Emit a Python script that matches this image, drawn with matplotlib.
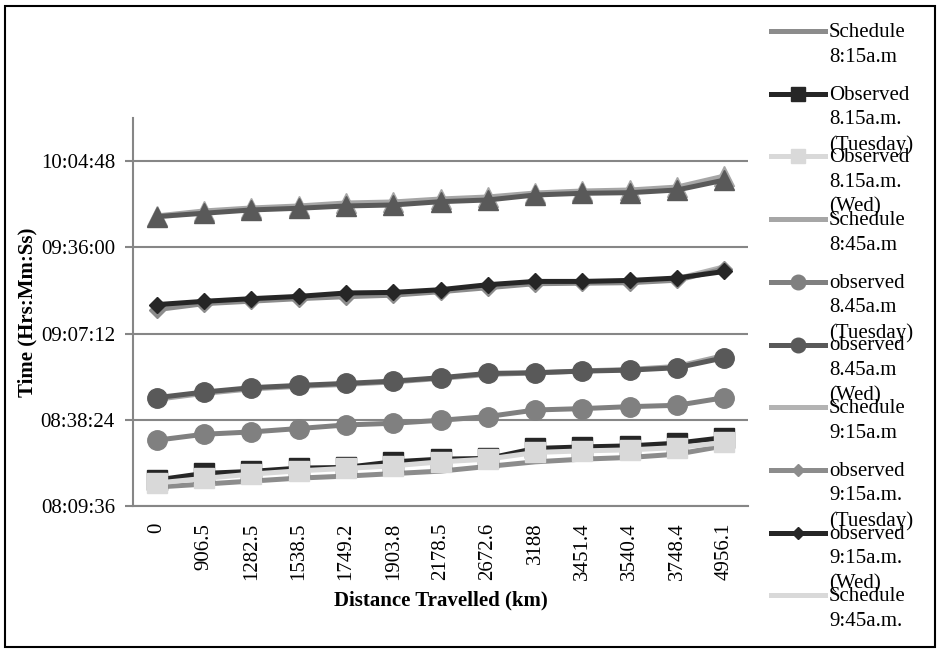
import matplotlib
matplotlib.use("Agg")
import matplotlib.pyplot as plt
import matplotlib.ticker as mticker
from matplotlib.lines import Line2D
from matplotlib.patches import Rectangle
import pandas as pd

# Data
distances = ["0", "906.5", "1282.5", "1538.5", "1749.2", "1903.8", "2178.5",
             "2672.6", "3188", "3451.4", "3540.4", "3748.4", "4956.1"]

sched_815 = ["08:15:56", "08:16:55", "08:17:55", "08:18:55", "08:19:35", "08:20:25", "08:21:15",
             "08:22:49", "08:24:21", "08:25:15", "08:25:49", "08:26:55", "08:29:41"]
obs_815_tue = ["08:18:16", "08:20:29", "08:21:09", "08:22:15", "08:22:29", "08:24:21", "08:25:15",
               "08:25:29", "08:28:49", "08:29:20", "08:29:41", "08:30:35", "08:32:28"]
obs_815_wed = ["08:17:16", "08:18:49", "08:20:15", "08:21:21", "08:22:09", "08:23:01", "08:24:21",
               "08:25:15", "08:27:29", "08:28:01", "08:28:21", "08:29:08", "08:30:49"]
sched_845 = ["08:45:14", "08:47:13", "08:48:43", "08:49:33", "08:50:13", "08:51:03", "08:52:13",
             "08:53:33", "08:54:03", "08:54:43", "08:55:13", "08:56:13", "08:59:53"]
obs_845_tue = ["08:31:34", "08:33:34", "08:34:20", "08:35:28", "08:36:40", "08:37:14", "08:38:14",
               "08:39:28", "08:41:40", "08:42:08", "08:42:47", "08:43:14", "08:45:47"]
obs_845_wed = ["08:45:47", "08:47:39", "08:49:07", "08:49:53", "08:50:33", "08:51:19", "08:52:27",
               "08:53:53", "08:54:07", "08:54:39", "08:54:59", "08:55:47", "08:59:07"]
sched_915 = ["09:15:52", "09:17:51", "09:18:31", "09:19:11", "09:20:11", "09:20:31", "09:21:31",
             "09:22:51", "09:24:11", "09:24:21", "09:24:31", "09:25:31", "09:29:31"]
obs_915_tue = ["09:15:11", "09:17:11", "09:18:01", "09:18:51", "09:19:31", "09:20:01", "09:21:11",
               "09:22:31", "09:23:51", "09:24:01", "09:24:11", "09:25:01", "09:28:50"]
obs_915_wed = ["09:16:52", "09:17:58", "09:18:51", "09:19:37", "09:20:45", "09:20:57", "09:21:51",
               "09:23:31", "09:24:37", "09:24:37", "09:24:57", "09:25:45", "09:27:56"]
sched_945 = ["09:46:00", "09:47:50", "09:48:50", "09:49:30", "09:50:30", "09:50:50", "09:51:50",
             "09:52:30", "09:53:50", "09:54:30", "09:54:50", "09:55:50", "09:59:30"]
obs_945_tue = ["09:46:29", "09:48:09", "09:49:09", "09:49:49", "09:50:49", "09:51:09", "09:52:09",
               "09:52:49", "09:54:09", "09:54:49", "09:55:09", "09:56:08", "09:59:49"]
obs_945_wed = ["09:46:16", "09:47:23", "09:48:29", "09:49:03", "09:49:49", "09:50:09", "09:51:15",
               "09:51:49", "09:53:29", "09:54:03", "09:54:15", "09:55:09", "09:58:28"]

labels = ["Schedule\n8:15a.m", "Observed\n8.15a.m.\n(Tuesday)", "Observed\n8.15a.m.\n(Wed)",
          "Schedule\n8:45a.m", "observed\n8.45a.m\n(Tuesday)", "observed\n8.45a.m\n(Wed)",
          "Schedule\n9:15a.m", "observed\n9:15a.m.\n(Tuesday)", "observed\n9:15a.m.\n(Wed)",
          "Schedule\n9:45a.m.", "observed\n9:45a.m.\n(Tuesday)", "observed\n9:45a.m.\n(Wed)"]

series = [sched_815, obs_815_tue, obs_815_wed, sched_845, obs_845_tue, obs_845_wed,
          sched_915, obs_915_tue, obs_915_wed, sched_945, obs_945_tue, obs_945_wed]
colors = ["#8c8c8c", "#262626", "#d9d9d9", "#a6a6a6", "#808080", "#595959",
          "#b3b3b3", "#8c8c8c", "#262626", "#d9d9d9", "#a6a6a6", "#595959"]
markers = [None, "s", "s", None, "o", "o", None, "D", "D", None, "^", "^"]
msizes = [0, 14, 14, 0, 14, 14, 0, 8, 8, 0, 14, 14]


def to_days(times):
    return (pd.to_timedelta(times).total_seconds() / 86400.0).tolist()


def fmt_time(v, pos=None):
    s = int(round(v * 86400))
    return "%02d:%02d:%02d" % (s // 3600, (s % 3600) // 60, s % 60)


plt.rcParams["font.family"] = ["Liberation Serif", "DejaVu Serif"]
plt.rcParams["font.size"] = 15

W, H = 939, 651
fig = plt.figure(figsize=(W / 100, H / 100), dpi=100)
ax = fig.add_axes([133 / W, 1 - 506 / H, (748 - 133) / W, (506 - 118) / H])

x = list(range(len(distances)))
for vals, col, mk, ms in zip(series, colors, markers, msizes):
    ax.plot(x, to_days(vals), color=col, lw=3.6, marker=mk, markersize=ms,
            markeredgecolor=col, markerfacecolor=col, solid_joinstyle="round")

ax.set_xlim(-0.5, len(distances) - 0.5)
ax.set_ylim(0.34, 0.43)
ax.yaxis.set_major_locator(mticker.FixedLocator([0.34, 0.36, 0.38, 0.40, 0.42]))
ax.yaxis.set_major_formatter(mticker.FuncFormatter(fmt_time))
ax.set_xticks(x)
ax.set_xticklabels(distances, rotation=90, va="top")
ax.tick_params(axis="x", length=0, pad=12)
ax.tick_params(axis="y", length=6, width=1.5, color="#868686", pad=7)
ax.grid(axis="y", color="#868686", lw=1.5)
ax.set_axisbelow(True)
for side in ["top", "right"]:
    ax.spines[side].set_visible(False)
for side in ["left", "bottom"]:
    ax.spines[side].set_color("#868686")
    ax.spines[side].set_linewidth(1.5)

ax.set_xlabel("Distance Travelled (km)", fontweight="bold")
ax.set_ylabel("Time (Hrs:Mm:Ss)", fontweight="bold")
ax.xaxis.set_label_coords(0.5, (506 - 590) / (506 - 118), transform=ax.transAxes)
ax.yaxis.set_label_coords((37 - 133) / (748 - 133), 0.5, transform=ax.transAxes)

# manual legend, Excel style (fixed spacing, overflowing text);
# entries that fall below the chart frame are not shown, as in Excel
for i, (lab, col, mk, ms) in enumerate(zip(labels, colors, markers, msizes)):
    yc_px = 31 + i * 62.7
    if yc_px > H - 20:
        break
    yc = 1 - yc_px / H
    fig.add_artist(Line2D([771 / W, 798 / W, 825 / W], [yc, yc, yc], color=col, lw=3.6,
                          marker=mk, markevery=[1], markersize=ms * 0.75,
                          markeredgecolor=col, markerfacecolor=col))
    fig.text(829 / W, yc + 8 / H, lab, va="top", ha="left", linespacing=1.4)

fig.add_artist(Rectangle((5 / W, 4 / H), 930 / W, 641 / H, fill=False, ec="black",
                         lw=1.5, transform=fig.transFigure))

fig.savefig("out.png", dpi=100)
